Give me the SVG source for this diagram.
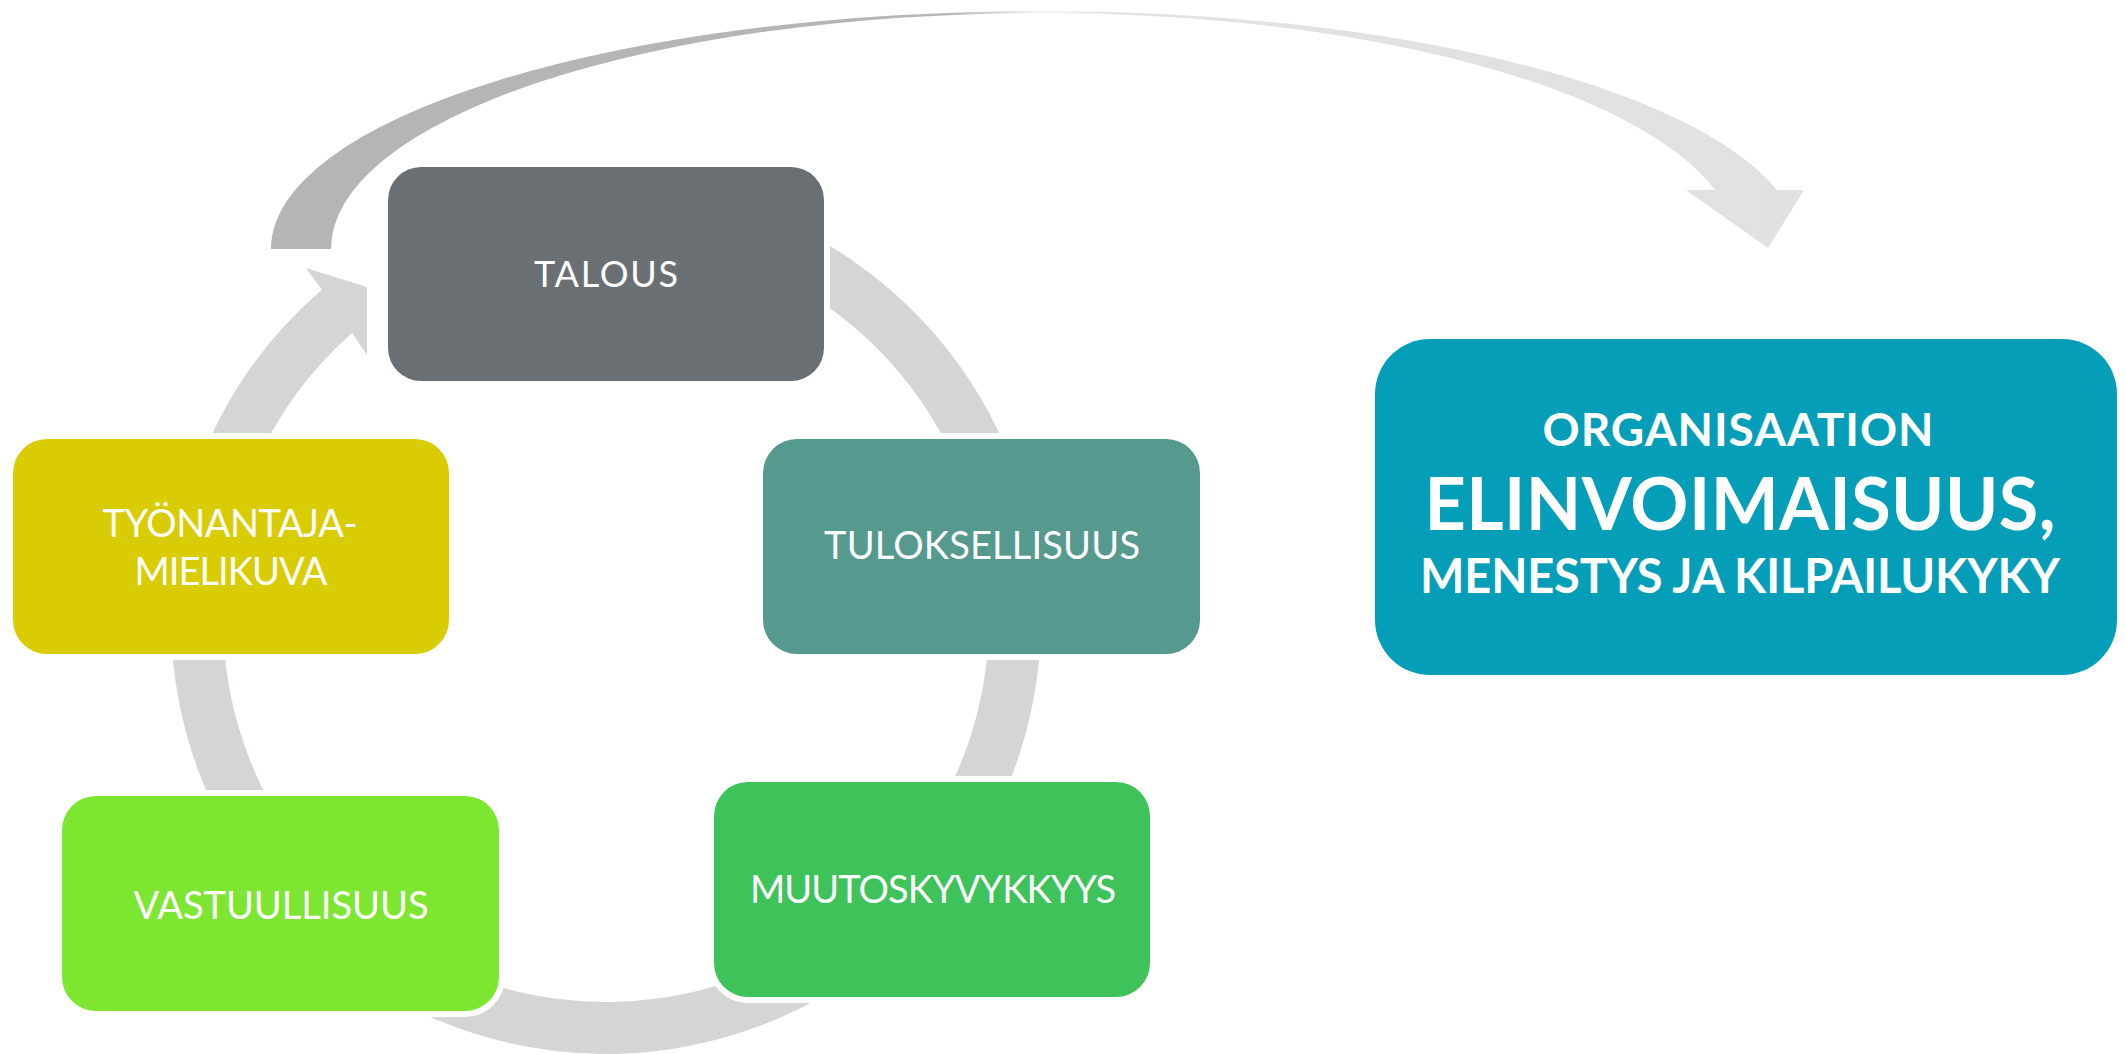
<svg xmlns="http://www.w3.org/2000/svg" width="2126" height="1054" viewBox="0 0 2126 1054">
<style>
.seg{fill:#d4d6d5}
.box{stroke:#ffffff;stroke-width:12;paint-order:stroke}
.lbl{fill:#ffffff;font-family:Lato,"Noto Sans","Liberation Sans",sans-serif;font-weight:400;text-anchor:middle}
.big{fill:#ffffff;font-family:Lato,"Noto Sans","Liberation Sans",sans-serif;font-weight:700;text-anchor:middle}
</style>
<defs>
<linearGradient id="arcGrad" gradientUnits="userSpaceOnUse" x1="271" y1="0" x2="1804" y2="0">
<stop offset="0" stop-color="#b4b6b5"/>
<stop offset="0.44" stop-color="#b4b6b5"/>
<stop offset="0.503" stop-color="#f4f4f4"/>
<stop offset="0.55" stop-color="#e1e2e3"/>
<stop offset="1" stop-color="#e0e1e2"/>
</linearGradient>
</defs>
<rect width="2126" height="1054" fill="#ffffff"/>
<g id="connectors">
<path id="big-arrow" fill="url(#arcGrad)" d="M271,249 A772,238 0 0 1 1043,11 A757.7,238 0 0 1 1777,190 L1804,190 L1768,248 L1686,190 L1715,190 A693.6,236 0 0 0 1043,13 A712,236 0 0 0 331,249 Z"/>
<path class="seg" d="M197.2,470.2 A435,435 0 0 1 321.8,289.7 L306,268 L367,287 L367,355 L352,333 A383,383 0 0 0 246.1,488 Z"/>
<path class="seg" d="M606,184 A435,435 0 0 1 1014.8,470.2 L965.9,488 A383,383 0 0 0 606,236 Z"/>
<path class="seg" d="M1041,619 A435,435 0 0 1 913.6,926.6 L876.8,889.8 A383,383 0 0 0 989,619 Z"/>
<path class="seg" d="M836.5,987.9 A435,435 0 0 1 388.5,995.7 L414.5,950.7 A383,383 0 0 0 809,943.8 Z"/>
<path class="seg" d="M298.4,926.6 A435,435 0 0 1 171,619 L223,619 A383,383 0 0 0 335.2,889.8 Z"/>
</g>
<g id="talous">
<rect class="box" x="388" y="167" width="436" height="214" rx="33" fill="#6a6f73"/>
<text class="lbl" x="606" y="287" font-size="36" textLength="144" lengthAdjust="spacing">TALOUS</text>
</g>
<g id="tulokselllisuus">
<rect class="box" x="763" y="439" width="437" height="215" rx="34" fill="#56998f"/>
<text class="lbl" x="982" y="559" font-size="38" textLength="316" lengthAdjust="spacing">TULOKSELLISUUS</text>
</g>
<g id="muutoskyvykkyys">
<rect class="box" x="714" y="782" width="436" height="215" rx="34" fill="#3ec35a"/>
<text class="lbl" x="933" y="903" font-size="38" textLength="366" lengthAdjust="spacing">MUUTOSKYVYKKYYS</text>
</g>
<g id="vastuullisuus">
<rect class="box" x="62" y="796" width="437" height="215" rx="34" fill="#7de631"/>
<text class="lbl" x="281" y="919" font-size="38" textLength="295" lengthAdjust="spacing">VASTUULLISUUS</text>
</g>
<g id="tyonantajamielikuva">
<rect class="box" x="13" y="439" width="436" height="215" rx="34" fill="#d9cc02"/>
<text class="lbl" x="230" y="537" font-size="38" textLength="255" lengthAdjust="spacing">TYÖNANTAJA-</text>
<text class="lbl" x="231" y="585" font-size="38" textLength="193" lengthAdjust="spacing">MIELIKUVA</text>
</g>
<g id="elinvoimaisuus">
<rect x="1375" y="339" width="742" height="336" rx="55" fill="#059eb8"/>
<text class="big" x="1738" y="446" font-size="46" textLength="391" lengthAdjust="spacing">ORGANISAATION</text>
<text class="big" x="1740" y="530" font-size="72" textLength="631" lengthAdjust="spacing">ELINVOIMAISUUS,</text>
<text class="big" x="1740" y="593" font-size="47" textLength="640" lengthAdjust="spacing">MENESTYS JA KILPAILUKYKY</text>
</g>
</svg>
